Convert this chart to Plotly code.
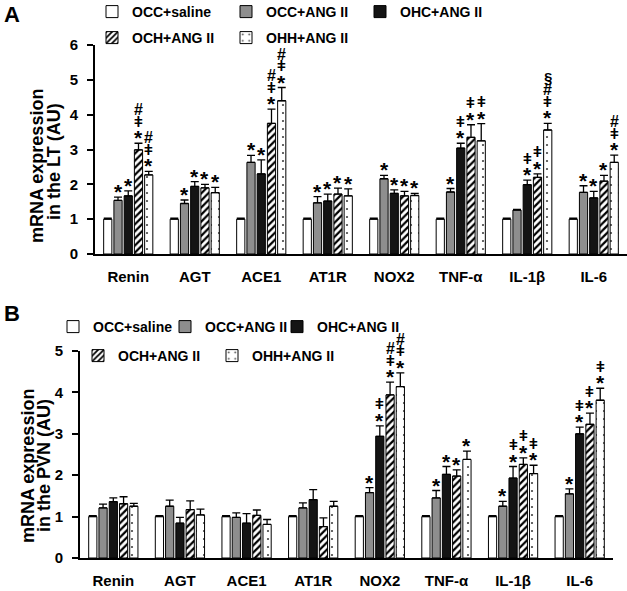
import plotly.graph_objects as go

# ---------------- data ----------------
genes = ["Renin", "AGT", "ACE1", "AT1R", "NOX2", "TNF-α", "IL-1β", "IL-6"]
groups = ["OCC+saline", "OCC+ANG II", "OHC+ANG II", "OCH+ANG II", "OHH+ANG II"]
lt_ticks = [0, 1, 2, 3, 4, 5, 6]
pvn_ticks = [0, 1, 2, 3, 4, 5]

# Panel A: lamina terminalis (LT)
lt_occ_saline = [1.00, 1.00, 1.00, 1.00, 1.00, 1.00, 1.00, 1.00]
lt_occ_ang = [1.54, 1.45, 2.63, 1.47, 2.16, 1.78, 1.26, 1.77]
lt_ohc_ang = [1.67, 1.94, 2.30, 1.52, 1.74, 3.04, 1.99, 1.61]
lt_och_ang = [2.99, 1.90, 3.75, 1.72, 1.67, 3.35, 2.20, 2.09]
lt_ohh_ang = [2.27, 1.76, 4.40, 1.67, 1.68, 3.25, 3.56, 2.63]

lt_occ_saline_err = [0.03, 0.03, 0.03, 0.03, 0.03, 0.03, 0.03, 0.03]
lt_occ_ang_err = [0.09, 0.10, 0.20, 0.18, 0.10, 0.10, 0.02, 0.19]
lt_ohc_ang_err = [0.14, 0.14, 0.40, 0.20, 0.10, 0.14, 0.13, 0.19]
lt_och_ang_err = [0.19, 0.10, 0.41, 0.17, 0.13, 0.36, 0.10, 0.17]
lt_ohh_ang_err = [0.10, 0.15, 0.38, 0.20, 0.06, 0.49, 0.19, 0.21]

lt_occ_saline_sig = ["", "", "", "", "", "", "", ""]
lt_occ_ang_sig = ["*", "*", "*", "*", "*", "*", "", "*"]
lt_ohc_ang_sig = ["*", "*", "*", "*", "*", "*ǂ", "*ǂ", "*"]
lt_och_ang_sig = ["*ǂ#", "*", "*ǂ#", "*", "*", "*ǂ", "*ǂ", "*"]
lt_ohh_ang_sig = ["*ǂ#", "*", "*ǂ#", "*", "*", "*ǂ", "*ǂ#§", "*ǂ#"]

# Panel B: paraventricular nucleus (PVN)
pvn_occ_saline = [1.00, 1.00, 1.00, 1.00, 1.00, 1.00, 1.00, 1.00]
pvn_occ_ang = [1.21, 1.25, 0.98, 1.21, 1.58, 1.45, 1.25, 1.55]
pvn_ohc_ang = [1.36, 0.84, 0.84, 1.41, 2.94, 2.02, 1.93, 3.00]
pvn_och_ang = [1.31, 1.17, 1.03, 0.76, 3.94, 1.98, 2.26, 3.23]
pvn_ohh_ang = [1.25, 1.04, 0.81, 1.25, 4.14, 2.38, 2.04, 3.81]

pvn_occ_saline_err = [0.02, 0.02, 0.02, 0.02, 0.02, 0.02, 0.02, 0.02]
pvn_occ_ang_err = [0.09, 0.15, 0.11, 0.12, 0.12, 0.18, 0.12, 0.12]
pvn_ohc_ang_err = [0.09, 0.14, 0.23, 0.24, 0.25, 0.19, 0.28, 0.16]
pvn_och_ang_err = [0.17, 0.21, 0.13, 0.21, 0.31, 0.15, 0.16, 0.27]
pvn_ohh_ang_err = [0.07, 0.14, 0.12, 0.12, 0.33, 0.20, 0.20, 0.29]

pvn_occ_saline_sig = ["", "", "", "", "", "", "", ""]
pvn_occ_ang_sig = ["", "", "", "", "*", "*", "*", "*"]
pvn_ohc_ang_sig = ["", "", "", "", "*ǂ", "*", "*ǂ", "*ǂ"]
pvn_och_ang_sig = ["", "", "", "", "*ǂ#", "*", "*ǂ", "*ǂ"]
pvn_ohh_ang_sig = ["", "", "", "", "*ǂ#", "*", "*ǂ", "*ǂ"]

# ---------------- style ----------------
W, H = 627, 591
FONT = "Liberation Sans, Arial, sans-serif"
BARGAP = 0.23
NG = len(groups)
PITCH = (1 - BARGAP) / NG

fills = ["white", "#8e8e8e", "#141414", "white", "white"]
patterns = [
    dict(shape=""),
    dict(shape=""),
    dict(shape=""),
    dict(shape="/", size=5, solidity=0.45, fgcolor="black", bgcolor="white"),
    dict(shape=".", size=8, solidity=0.06, fgcolor="#444444", bgcolor="white"),
]

panels = [
    dict(name="A", xa="x", ya="y",
         means=[lt_occ_saline, lt_occ_ang, lt_ohc_ang, lt_och_ang, lt_ohh_ang],
         errs=[lt_occ_saline_err, lt_occ_ang_err, lt_ohc_ang_err, lt_och_ang_err, lt_ohh_ang_err],
         sigs=[lt_occ_saline_sig, lt_occ_ang_sig, lt_ohc_ang_sig, lt_och_ang_sig, lt_ohh_ang_sig],
         legends=["legend", "legend", "legend", "legend2", "legend2"],
         legwidths=[89, 89, 89, 89, 89]),
    dict(name="B", xa="x2", ya="y2",
         means=[pvn_occ_saline, pvn_occ_ang, pvn_ohc_ang, pvn_och_ang, pvn_ohh_ang],
         errs=[pvn_occ_saline_err, pvn_occ_ang_err, pvn_ohc_ang_err, pvn_och_ang_err, pvn_ohh_ang_err],
         sigs=[pvn_occ_saline_sig, pvn_occ_ang_sig, pvn_ohc_ang_sig, pvn_och_ang_sig, pvn_ohh_ang_sig],
         legends=["legend3", "legend3", "legend3", "legend4", "legend4"],
         legwidths=[67, 67, 90, 89, 89]),
]

fig = go.Figure()
xs = list(range(len(genes)))

sym_size = {"*": 21, "ǂ": 15, "#": 16, "§": 15}
sym_off = {"*": 5, "ǂ": 0, "#": 0, "§": -1}
STEP = 11.5

annotations = []
for p in panels:
    for j, g in enumerate(groups):
        fig.add_trace(go.Bar(
            x=xs, y=p["means"][j], name=g,
            xaxis=p["xa"], yaxis=p["ya"],
            legend=p["legends"][j], legendwidth=p["legwidths"][j],
            marker=dict(color=fills[j], line=dict(color="black", width=1),
                        pattern=patterns[j]),
            error_y=dict(type="data", array=p["errs"][j],
                         arrayminus=[0] * len(genes), symmetric=False,
                         color="black", thickness=1.3, width=4),
        ))
        for i in xs:
            s = p["sigs"][j][i]
            top = p["means"][j][i] + p["errs"][j][i]
            xpos = i + (j - (NG - 1) / 2) * PITCH
            for k, ch in enumerate(s):
                annotations.append(dict(
                    x=xpos, y=top, xref=p["xa"], yref=p["ya"],
                    text=ch, showarrow=False, xanchor="center", yanchor="middle",
                    yshift=STEP * (k + 1) - sym_off[ch] - 1,
                    font=dict(family=FONT, size=sym_size[ch], color="black", weight="bold"),
                ))

def px_x(v):
    return v / W

def px_y(v):
    return 1 - v / H

# axis titles and panel letters
text_items = [
    ("A", 12, 15, 22, 0), ("B", 12, 313, 22, 0),
    ("mRNA expression", 37, 166, 18, -90), ("in the LT (AU)", 54, 162, 18, -90),
    ("mRNA expression", 28, 466, 18, -90), ("in the PVN (AU)", 44, 466, 18, -90),
]
for t, x, y, s, ang in text_items:
    annotations.append(dict(
        x=px_x(x), y=px_y(y), xref="paper", yref="paper", text=t,
        showarrow=False, xanchor="center", yanchor="middle", textangle=ang,
        font=dict(family=FONT, size=s, color="black", weight="bold"),
    ))

axis_common = dict(showgrid=False, zeroline=False, showline=True, linecolor="black",
                   linewidth=2, automargin=False,
                   tickfont=dict(family=FONT, size=15, color="black", weight="bold"))

leg_common = dict(orientation="h", xanchor="left", yanchor="middle",
                  bgcolor="rgba(0,0,0,0)", borderwidth=0, traceorder="normal",
                  font=dict(family=FONT, size=14, color="black", weight="bold"))

fig.update_layout(
    template="none",
    width=W, height=H, margin=dict(l=0, r=0, t=0, b=0, pad=0, autoexpand=False),
    paper_bgcolor="white", plot_bgcolor="white",
    barmode="group", bargap=BARGAP, bargroupgap=0.2,
    showlegend=True,
    xaxis=dict(domain=[px_x(95), 1.0], range=[-0.5, 7.5], tickvals=xs, ticktext=genes,
               ticks="", ticklabelstandoff=8, anchor="y", **axis_common),
    yaxis=dict(domain=[px_y(254), px_y(45)], range=[0, 6], tickvals=lt_ticks,
               ticks="outside", ticklen=6, tickwidth=2, tickcolor="black",
               ticklabelstandoff=6, anchor="x", **axis_common),
    xaxis2=dict(domain=[px_x(80), px_x(613)], range=[-0.5, 7.5], tickvals=xs, ticktext=genes,
                ticks="", ticklabelstandoff=8, anchor="y2", **axis_common),
    yaxis2=dict(domain=[px_y(558), px_y(351)], range=[0, 5], tickvals=pvn_ticks,
                ticks="outside", ticklen=6, tickwidth=2, tickcolor="black",
                ticklabelstandoff=6, anchor="x2", **axis_common),
    legend=dict(x=px_x(92), y=px_y(12), **leg_common),
    legend2=dict(x=px_x(92), y=px_y(38), **leg_common),
    legend3=dict(x=px_x(53), y=px_y(327), **leg_common),
    legend4=dict(x=px_x(78), y=px_y(356), **leg_common),
    annotations=annotations,
)

fig.write_html("out.html", config={"displayModeBar": False},
               post_script="document.body.style.margin='0';document.body.style.padding='0';")
